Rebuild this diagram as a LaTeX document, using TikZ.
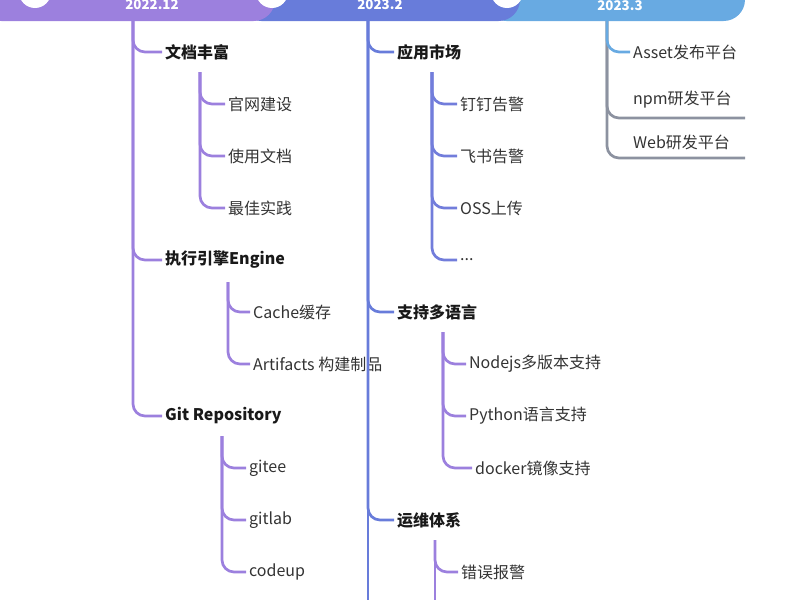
\documentclass[tikz,border=0pt]{standalone}
\usepackage{fontspec}
\setmainfont{Noto Sans CJK SC}
\begin{document}
\tikzset{every picture/.style={line width=0.75pt}}
\tikzset{
  trunk/.style={line width=2pt, rounded corners=9pt},
  item/.style={anchor=west, inner sep=2pt, font=\fontsize{12}{14}\selectfont, text=black!80},
  head/.style={item, font=\fontsize{12}{14}\selectfont\bfseries, text=black!90},
  date/.style={text=white, font=\fontsize{10}{12}\selectfont\bfseries}
}
\definecolor{cpurple}{RGB}{156,128,222}
\definecolor{cblue}{RGB}{104,124,218}
\definecolor{clight}{RGB}{104,170,226}
\definecolor{cgray}{RGB}{140,146,160}
\begin{tikzpicture}[x=0.75pt,y=0.75pt,yscale=-1,xscale=1]
\useasboundingbox (0,0) rectangle (800,600);

%Top band
\fill [clight, rounded corners=16pt] (485,-60) -- (745,-60) -- (745,21) -- (485,21) -- cycle;
\fill [cblue, rounded corners=16pt] (240,-60) -- (520,-60) -- (520,21) -- (240,21) -- cycle;
\fill [cpurple, rounded corners=16pt] (-20,-60) -- (275,-60) -- (275,21) -- (-20,21) -- cycle;
\fill [white] (35,-8) circle (16);
\fill [white] (272,-8) circle (16);
\fill [white] (507,-8) circle (16);
\node [date] (d1) at (152,5) {2022.12};
\node [date] (d2) at (380,5) {2023.2};
\node [date] (d3) at (620,6) {2023.3};

%Column 1
\coordinate (t1) at (133,21);
\node [head] (docs) at (162,52) {文档丰富};
\node [head] (engine) at (162,260) {执行引擎Engine};
\node [head] (git) at (162,416) {Git Repository};
\foreach \n in {docs,engine,git} \draw [trunk, cpurple] (t1) |- (\n.west);

\coordinate (t11) at (200,72);
\node [item] (site) at (225,104) {官网建设};
\node [item] (usedoc) at (225,156) {使用文档};
\node [item] (best) at (225,208) {最佳实践};
\foreach \n in {site,usedoc,best} \draw [trunk, cpurple] (t11) |- (\n.west);

\coordinate (t12) at (228,282);
\node [item] (cache) at (250,312) {Cache缓存};
\node [item] (artif) at (250,364) {Artifacts 构建制品};
\foreach \n in {cache,artif} \draw [trunk, cpurple] (t12) |- (\n.west);

\coordinate (t13) at (222,436);
\node [item] (gitee) at (246,468) {gitee};
\node [item] (gitlab) at (246,520) {gitlab};
\node [item] (codeup) at (246,572) {codeup};
\foreach \n in {gitee,gitlab,codeup} \draw [trunk, cpurple] (t13) |- (\n.west);

%Column 2
\coordinate (t2) at (368,21);
\coordinate (b2) at (368,600);
\node [head] (market) at (394,52) {应用市场};
\node [head] (lang) at (394,312) {支持多语言};
\node [head] (ops) at (394,520) {运维体系};
\draw [trunk, cblue] (t2) -- (b2);
\foreach \n in {market,lang,ops} \draw [trunk, cblue] (t2) |- (\n.west);

\coordinate (t21) at (432,72);
\node [item] (ding) at (457,104) {钉钉告警};
\node [item] (feishu) at (457,156) {飞书告警};
\node [item] (oss) at (457,208) {OSS上传};
\node [item] (more) at (457,260) {...};
\foreach \n in {ding,feishu,oss,more} \draw [trunk, cblue!80!cpurple] (t21) |- (\n.west);

\coordinate (t22) at (443,332);
\node [item] (node) at (466,364) {Nodejs多版本支持};
\node [item] (py) at (466,416) {Python语言支持};
\node [item] (docker) at (472,468) {docker镜像支持};
\foreach \n in {node,py,docker} \draw [trunk, cpurple] (t22) |- (\n.west);

\coordinate (t23) at (435,540);
\coordinate (b23) at (435,600);
\node [item] (alarm) at (458,572) {错误报警};
\draw [trunk, cpurple] (t23) -- (b23);
\draw [trunk, cpurple] (t23) |- (alarm.west);

%Column 3
\coordinate (t3) at (607,21);
\node [item] (asset) at (630,52) {Asset发布平台};
\node [item] (npm) at (630,100) {npm研发平台};
\node [item] (web) at (630,142) {Web研发平台};
\coordinate (npmu) at (745,118);
\coordinate (webu) at (745,158);
\draw [trunk, cgray] (t3) |- (webu);
\draw [trunk, cgray] (t3) |- (npmu);
\draw [trunk, clight] (t3) |- (asset.west);

\end{tikzpicture}
\end{document}
